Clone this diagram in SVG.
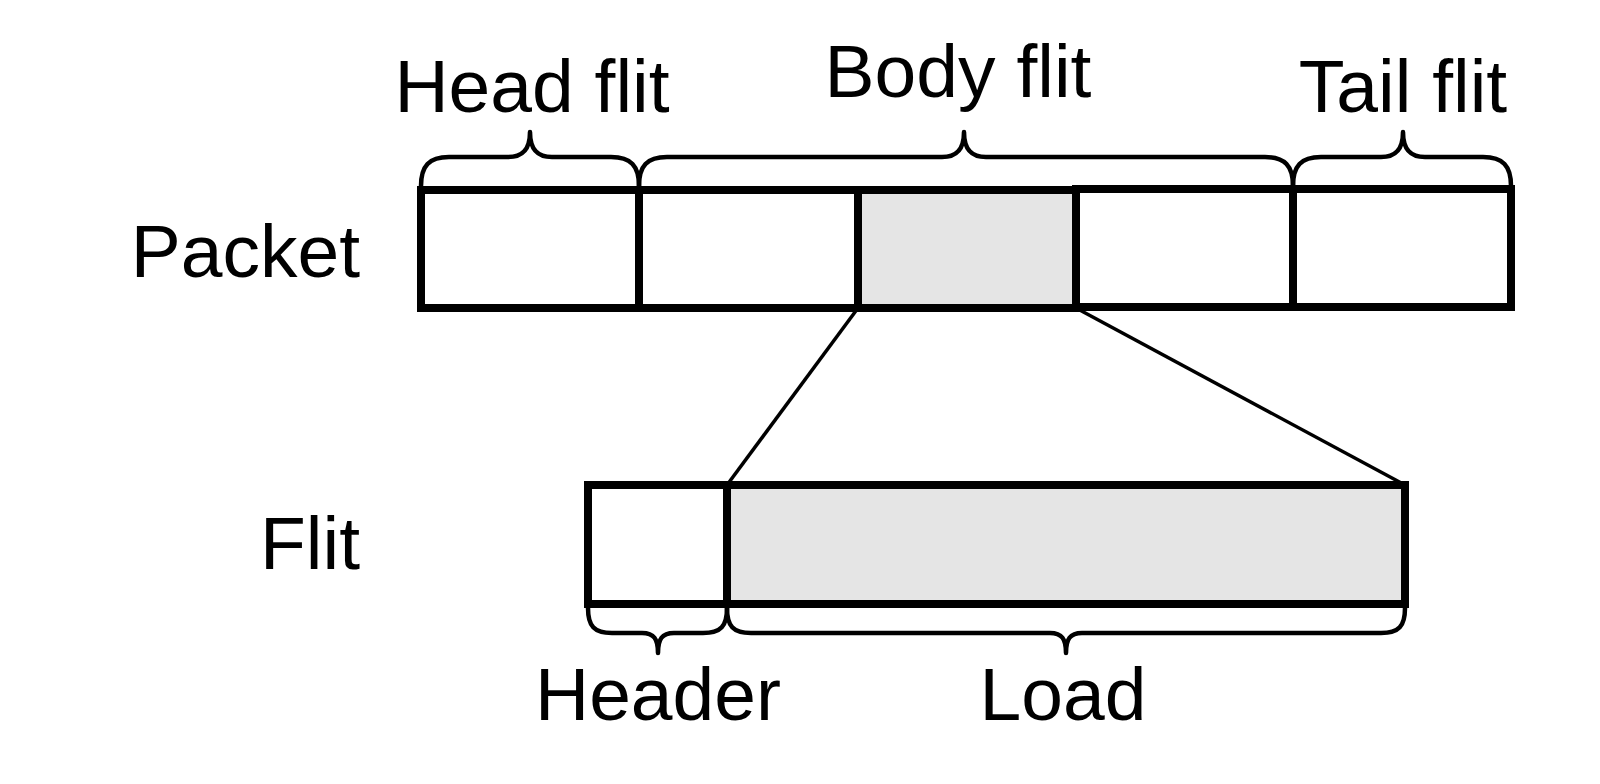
<svg xmlns="http://www.w3.org/2000/svg" width="1600" height="784" viewBox="0 0 1600 784">
<style>
.box{stroke:#000;stroke-width:8;fill:#fff}
.gray{fill:#e5e5e5}
.brace{fill:none;stroke:#000;stroke-width:4.5;stroke-linejoin:round}
.conn{fill:none;stroke:#000;stroke-width:3.5}
text{font-family:"Liberation Sans",Arial,sans-serif;font-size:75px;fill:#000}
.mid{text-anchor:middle}
.end{text-anchor:end}
</style>
<rect width="1600" height="784" fill="#fff"/>
<g id="connectors">
<line class="conn" x1="858" y1="308" x2="727" y2="485"/>
<line class="conn" x1="1076" y1="308" x2="1405" y2="485"/>
</g>
<g id="packet-label"><text class="end" x="360" y="277">Packet</text></g>
<g id="flit-label"><text class="end" x="360" y="569">Flit</text></g>
<g id="packet-flit-1"><rect class="box" x="421" y="190" width="218" height="118"/></g>
<g id="packet-flit-2"><rect class="box" x="639" y="190" width="219" height="118"/></g>
<g id="packet-flit-3"><rect class="box gray" x="858" y="190" width="218" height="118"/></g>
<g id="packet-flit-4"><rect class="box" x="1076" y="189" width="217" height="118"/></g>
<g id="packet-flit-5"><rect class="box" x="1293" y="189" width="218" height="118"/></g>
<g id="flit-header"><rect class="box" x="588" y="485" width="139" height="119"/></g>
<g id="flit-load"><rect class="box gray" x="727" y="485" width="678" height="119"/></g>
<g id="brace-head">
<path class="brace" d="M421,186 C421,166 429,157 449,157 L508,157 C522,157 530,150 530,132 C530,150 538,157 552,157 L611,157 C631,157 639,166 639,186"/>
<text class="mid" x="532" y="112">Head flit</text>
</g>
<g id="brace-body">
<path class="brace" d="M639,186 C639,166 647,157 667,157 L942,157 C956,157 964,150 964,132 C964,150 972,157 986,157 L1265,157 C1285,157 1293,166 1293,186"/>
<text class="mid" x="958" y="97">Body flit</text>
</g>
<g id="brace-tail">
<path class="brace" d="M1293,186 C1293,166 1301,157 1321,157 L1381,157 C1395,157 1403,150 1403,132 C1403,150 1411,157 1425,157 L1483,157 C1503,157 1511,166 1511,186"/>
<text class="mid" x="1403" y="112">Tail flit</text>
</g>
<g id="brace-header">
<path class="brace" d="M588,608 C588,626 594,633 612,633 L642,633 C654,633 658,639 658,653 C658,639 662,633 674,633 L703,633 C721,633 727,626 727,608"/>
<text class="mid" x="658" y="720">Header</text>
</g>
<g id="brace-load">
<path class="brace" d="M727,608 C727,626 733,633 751,633 L1050,633 C1062,633 1066,639 1066,653 C1066,639 1070,633 1082,633 L1381,633 C1399,633 1405,626 1405,608"/>
<text class="mid" x="1063" y="720">Load</text>
</g>
</svg>
